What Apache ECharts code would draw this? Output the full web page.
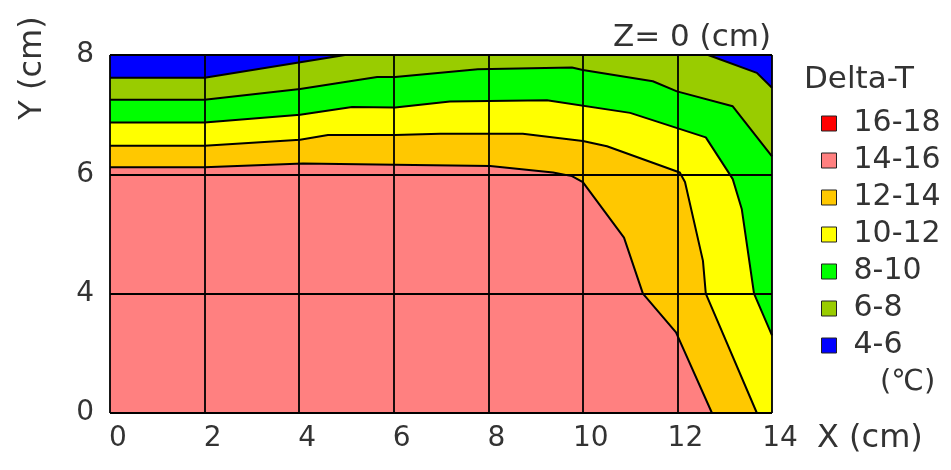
<!DOCTYPE html>
<html>
<head>
<meta charset="utf-8">
<script src="https://cdn.jsdelivr.net/npm/echarts@6/dist/echarts.min.js"></script>
<style>
  html, body { margin: 0; padding: 0; background: #fff; }
  #chart { width: 951px; height: 470px; }
</style>
</head>
<body>
<div id="chart"></div>
<script>
// Axis ticks (cm). The Y rows 0, 4, 6, 8 are drawn evenly spaced.
const xTicks = [0, 2, 4, 6, 8, 10, 12, 14];
const yTicks = [0, 4, 6, 8];

// Temperature-rise bands, top of legend first
const bandNames  = ['16-18', '14-16', '12-14', '10-12', '8-10', '6-8', '4-6'];
const bandColors = ['#ff0000', '#ff8080', '#ffc800', '#ffff00', '#00ff00', '#99cc00', '#0000ff'];

// Isotherms as [x cm, y cm], running from the left/top edge to the bottom/right edge
const iso14 = [[0, 6.12], [2, 6.12], [4.08, 6.18], [6.03, 6.16], [8.04, 6.14], [9.37, 6.03],
               [9.77, 5.97], [10.0, 5.87], [10.87, 4.94], [11.27, 4.0], [11.97, 2.70], [12.73, 0]];
const iso12 = [[0, 6.48], [2, 6.48], [4.02, 6.58], [4.61, 6.66], [6.03, 6.66], [6.98, 6.68],
               [8.73, 6.68], [10.0, 6.56], [10.51, 6.47], [12.05, 6.03], [12.16, 5.87],
               [12.54, 4.55], [12.6, 4.0], [13.68, 0]];
const iso10 = [[0, 6.87], [2, 6.87], [4.02, 7.0], [5.12, 7.13], [6.03, 7.12], [7.19, 7.22],
               [9.24, 7.24], [11.0, 7.03], [12.6, 6.62], [13.09, 6.02], [13.17, 5.92],
               [13.36, 5.42], [13.62, 4.0], [14, 2.6]];
const iso8  = [[0, 7.25], [2, 7.25], [4.02, 7.43], [5.65, 7.63], [6.03, 7.63], [7.78, 7.76],
               [9.77, 7.79], [10.0, 7.75], [11.48, 7.56], [11.99, 7.39], [13.17, 7.14], [14, 6.3]];
const iso6Left  = [[0, 7.62], [2, 7.62], [4.97, 8]];
const iso6Right = [[12.65, 8], [13.68, 7.7], [14, 7.45]];

const X_MAX = xTicks[xTicks.length - 1];
const Y_MAX = yTicks[yTicks.length - 1];
const FONT = 'DejaVu Sans';
const TEXT = '#333';

// cm -> evenly spaced row position on the y axis
function toRow(y) {
  for (let i = 0; i < yTicks.length - 1; i++) {
    if (y <= yTicks[i + 1]) return i + (y - yTicks[i]) / (yTicks[i + 1] - yTicks[i]);
  }
  return yTicks.length - 1;
}

// position along the plot border, counter-clockwise from the origin
function perim(p) {
  const [x, y] = p, e = 1e-6;
  if (Math.abs(y) < e) return x;
  if (Math.abs(x - X_MAX) < e) return X_MAX + y;
  if (Math.abs(y - Y_MAX) < e) return X_MAX + Y_MAX + (X_MAX - x);
  return 2 * X_MAX + Y_MAX + (Y_MAX - y);
}
const PER = 2 * (X_MAX + Y_MAX);
const corners = [[X_MAX, [X_MAX, 0]], [X_MAX + Y_MAX, [X_MAX, Y_MAX]],
                 [2 * X_MAX + Y_MAX, [0, Y_MAX]], [PER, [0, 0]]];

// region lying beyond an isotherm (away from the origin corner)
function beyond(line) {
  const t0 = perim(line[line.length - 1]);
  let t1 = perim(line[0]);
  if (t1 < t0) t1 += PER;
  const extra = [];
  corners.forEach(([t, pt]) => {
    [t, t + PER].forEach(tt => { if (tt > t0 && tt < t1) extra.push([tt, pt]); });
  });
  extra.sort((a, b) => a[0] - b[0]);
  return line.concat(extra.map(d => d[1]));
}

const fullRect = [[0, 0], [X_MAX, 0], [X_MAX, Y_MAX], [0, Y_MAX]];
const regions = {
  '16-18': [],
  '14-16': [fullRect],
  '12-14': [beyond(iso14)],
  '10-12': [beyond(iso12)],
  '8-10':  [beyond(iso10)],
  '6-8':   [beyond(iso8)],
  '4-6':   [beyond(iso6Left), beyond(iso6Right)]
};
const isolines = [iso14, iso12, iso10, iso8, iso6Left, iso6Right];

function pts(api, poly) {
  return poly.map(p => api.coord([p[0], toRow(p[1])]));
}

// draw order: warm core first, cooler bands on top
const drawOrder = ['16-18', '14-16', '12-14', '10-12', '8-10', '6-8', '4-6'];
const series = drawOrder.map(name => {
  const color = bandColors[bandNames.indexOf(name)];
  const polys = regions[name];
  return {
    type: 'custom',
    name: name,
    coordinateSystem: 'cartesian2d',
    silent: true,
    z: 1,
    itemStyle: { color: color },
    data: polys.length ? [[0, 0]] : [],
    renderItem: (params, api) => ({
      type: 'group',
      children: polys.map(poly => ({
        type: 'polygon',
        shape: { points: pts(api, poly) },
        style: { fill: color, stroke: null }
      }))
    })
  };
});
series.push({
  type: 'custom',
  name: 'isolines',
  coordinateSystem: 'cartesian2d',
  silent: true,
  z: 20,
  data: [[0, 0]],
  renderItem: (params, api) => ({
    type: 'group',
    children: isolines.map(line => ({
      type: 'polyline',
      shape: { points: pts(api, line) },
      style: { stroke: '#000', lineWidth: 2, fill: null, lineJoin: 'round' }
    }))
  })
});

const chart = echarts.init(document.getElementById('chart'), null, { renderer: 'canvas' });
chart.setOption({
  animation: false,
  backgroundColor: '#fff',
  textStyle: { fontFamily: FONT },
  title: {
    text: 'Z= 0 (cm)',
    right: 175,
    top: 17,
    textStyle: { fontFamily: FONT, fontSize: 31, fontWeight: 'normal', color: TEXT }
  },
  grid: { left: 110, right: 179, top: 55, bottom: 57 },
  xAxis: {
    type: 'value',
    min: 0, max: X_MAX, interval: 2,
    z: 10,
    name: 'X (cm)',
    nameLocation: 'end',
    nameGap: 45,
    nameTextStyle: { fontFamily: FONT, fontSize: 32, color: TEXT, verticalAlign: 'top', padding: [10, 0, 0, 0] },
    axisLine: { show: false },
    axisTick: { show: false },
    axisLabel: { fontFamily: FONT, fontSize: 28, color: TEXT, margin: 12, padding: [0, 0, 0, 16] },
    splitLine: { show: true, lineStyle: { color: '#000', width: 1.8 } }
  },
  yAxis: {
    type: 'value',
    min: 0, max: yTicks.length - 1, interval: 1,
    z: 10,
    axisLine: { show: false },
    axisTick: { show: false },
    axisLabel: { fontFamily: FONT, fontSize: 28, color: TEXT, margin: 16,
                 formatter: v => String(yTicks[Math.round(v)]) },
    splitLine: { show: true, lineStyle: { color: '#000', width: 1.8 } }
  },
  legend: {
    orient: 'vertical',
    left: 816,
    top: 103,
    data: bandNames,
    icon: 'rect',
    itemWidth: 15,
    itemHeight: 15,
    itemGap: 6,
    selectedMode: false,
    itemStyle: { borderColor: '#222', borderWidth: 1 },
    textStyle: { fontFamily: FONT, fontSize: 30, color: TEXT, lineHeight: 31, padding: [0, 0, 0, 12] }
  },
  graphic: [
    { type: 'text', x: 33, y: 68, rotation: Math.PI / 2,
      style: { text: 'Y (cm)', fontFamily: FONT, fontSize: 32, fill: TEXT, align: 'center', verticalAlign: 'middle' } },
    { type: 'text', x: 804, y: 80,
      style: { text: 'Delta-T', fontFamily: FONT, fontSize: 31, fill: TEXT, align: 'left', verticalAlign: 'middle' } },
    { type: 'text', x: 880, y: 382,
      style: { text: '(\u2103)', fontFamily: FONT, fontSize: 29, fill: TEXT, align: 'left', verticalAlign: 'middle' } }
  ],
  series: series
});
</script>
</body>
</html>
